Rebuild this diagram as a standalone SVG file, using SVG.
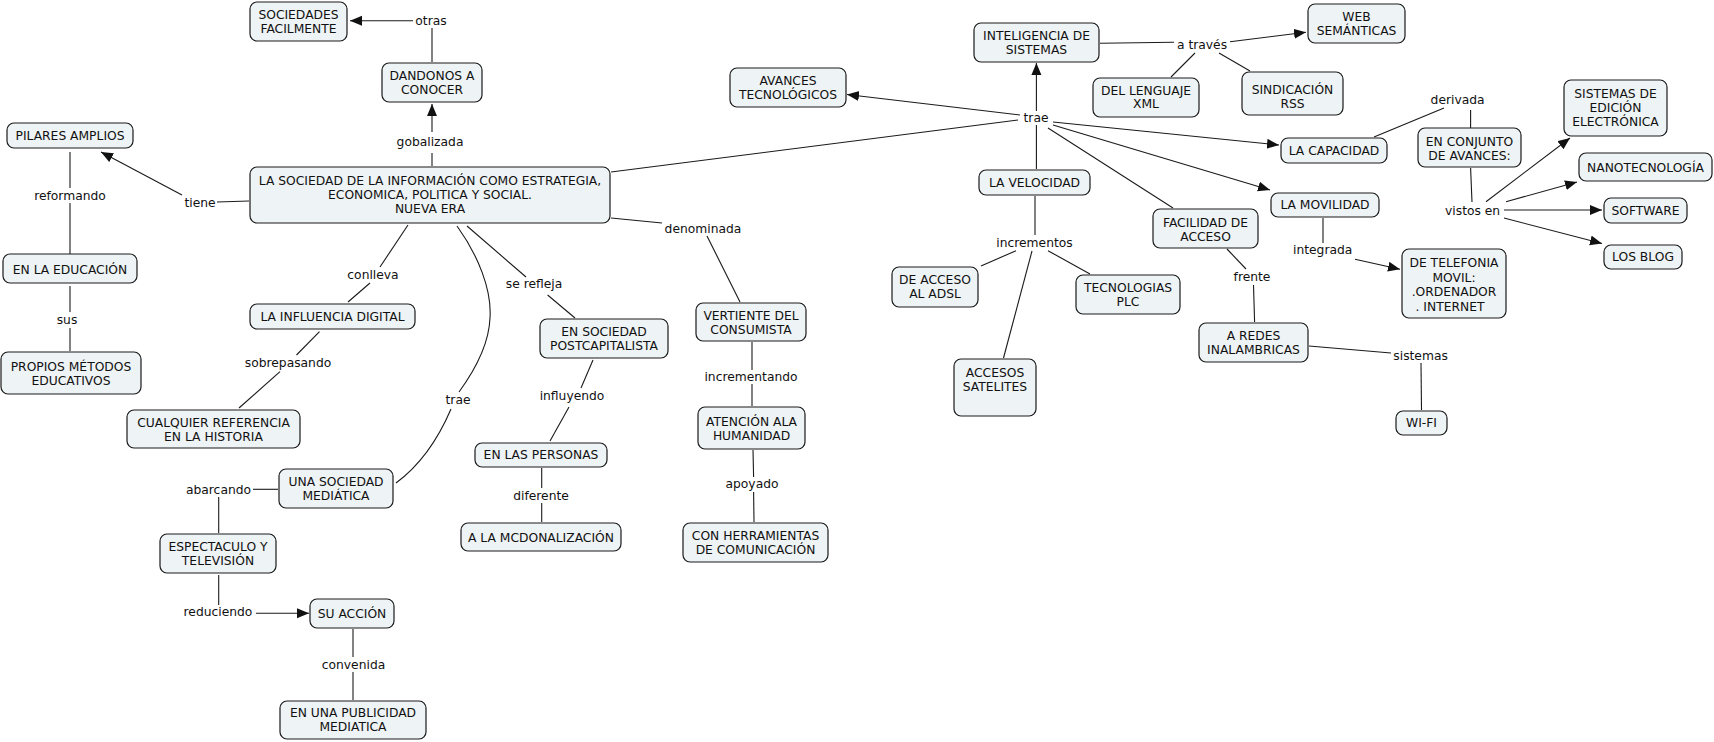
<svg xmlns="http://www.w3.org/2000/svg" width="1714" height="742" viewBox="0 0 1714 742">
<defs>
<style>
.n rect{fill:#EEF3F5;stroke:#1a1a1a;stroke-width:1.2}
text{font-family:"DejaVu Sans",Verdana,sans-serif;font-size:12.3px;fill:#111;text-anchor:middle}
.c line,.c path{stroke:#1a1a1a;stroke-width:1.1;fill:none}
.a{marker-end:url(#ah)}
</style>
<marker id="ah" markerUnits="userSpaceOnUse" markerWidth="13" markerHeight="11" refX="12" refY="5" orient="auto"><path d="M0,0 L12,5 L0,10 z" fill="#111"/></marker>
</defs>
<rect width="1714" height="742" fill="#fff"/>
<g id="connectors" class="c">
<line x1="432" y1="62" x2="432" y2="28"/>
<line class="a" x1="413" y1="20.7" x2="350" y2="20.7"/>
<line x1="432" y1="166" x2="432" y2="153"/>
<line class="a" x1="432" y1="132" x2="432" y2="104"/>
<line x1="249" y1="201" x2="217" y2="202"/>
<line class="a" x1="182" y1="195" x2="101" y2="152"/>
<line x1="70" y1="152" x2="70" y2="188"/>
<line x1="70" y1="203" x2="70" y2="254"/>
<line x1="70" y1="286" x2="70" y2="312"/>
<line x1="70" y1="328" x2="70" y2="351"/>
<line x1="408" y1="225" x2="380" y2="267"/>
<line x1="370" y1="283" x2="348" y2="302"/>
<line x1="319.5" y1="331.7" x2="296.5" y2="355"/>
<line x1="280" y1="371.7" x2="239" y2="408"/>
<path d="M457,226 C478,255 492,290 490,318 C489,345 475,370 459,392"/>
<path d="M451,409 Q430,458 396,483"/>
<line x1="467" y1="226" x2="526" y2="277"/>
<line x1="547.6" y1="295" x2="575" y2="318"/>
<line x1="593" y1="360" x2="581" y2="388"/>
<line x1="569" y1="407" x2="550" y2="441"/>
<line x1="541.7" y1="468" x2="541.7" y2="488"/>
<line x1="541.7" y1="503" x2="541.7" y2="522"/>
<line x1="253" y1="489.3" x2="278" y2="489.3"/>
<line x1="218.7" y1="497" x2="218.7" y2="533"/>
<line x1="218.7" y1="575" x2="218.7" y2="605"/>
<line class="a" x1="256" y1="613.3" x2="309" y2="613.3"/>
<line x1="353" y1="629" x2="353" y2="657"/>
<line x1="353" y1="672" x2="353" y2="700"/>
<line x1="611" y1="218" x2="662" y2="223"/>
<line x1="707" y1="236" x2="740" y2="302"/>
<line x1="752" y1="342" x2="752" y2="370"/>
<line x1="752" y1="384" x2="752" y2="406"/>
<line x1="753" y1="450" x2="753.6" y2="477"/>
<line x1="753.6" y1="492" x2="754" y2="522"/>
<line x1="611" y1="172" x2="1018" y2="120"/>
<line class="a" x1="1020" y1="115" x2="847" y2="94.5"/>
<line class="a" x1="1036.4" y1="111" x2="1036.4" y2="63"/>
<line x1="1036.4" y1="125" x2="1036.4" y2="169"/>
<line class="a" x1="1053" y1="122" x2="1279" y2="145"/>
<line class="a" x1="1053" y1="125" x2="1270" y2="190"/>
<line x1="1048" y1="128" x2="1173" y2="208"/>
<line x1="1100" y1="43.3" x2="1174" y2="42.3"/>
<line class="a" x1="1230" y1="41.7" x2="1306" y2="32.3"/>
<line x1="1195" y1="53" x2="1171" y2="77"/>
<line x1="1219" y1="53" x2="1250" y2="71"/>
<line x1="1035" y1="196" x2="1035" y2="235"/>
<line x1="1016" y1="250.7" x2="981" y2="266"/>
<line x1="1048" y1="250.7" x2="1090" y2="274"/>
<line x1="1032" y1="251" x2="1003.5" y2="358"/>
<line x1="1374" y1="137" x2="1444" y2="108"/>
<line x1="1470.6" y1="110" x2="1470.6" y2="128"/>
<line x1="1470.6" y1="168" x2="1472" y2="202"/>
<line class="a" x1="1486" y1="201.7" x2="1570" y2="138"/>
<line class="a" x1="1506" y1="201.7" x2="1577" y2="182"/>
<line class="a" x1="1504" y1="210" x2="1602" y2="210"/>
<line class="a" x1="1504" y1="218" x2="1602" y2="243.5"/>
<line x1="1323" y1="218" x2="1323" y2="243"/>
<line class="a" x1="1355" y1="259.3" x2="1400" y2="269.3"/>
<line x1="1227" y1="249" x2="1246" y2="269"/>
<line x1="1253.5" y1="285" x2="1254.6" y2="322"/>
<line x1="1309" y1="346" x2="1391" y2="353"/>
<line x1="1421" y1="363" x2="1421.5" y2="410"/>
</g>
<g id="labels">
<text x="431" y="25">otras</text>
<text x="430" y="146.3">gobalizada</text>
<text x="200" y="207.3">tiene</text>
<text x="70" y="200.3">reformando</text>
<text x="67" y="324.3">sus</text>
<text x="373" y="278.6">conlleva</text>
<text x="288" y="366.6">sobrepasando</text>
<text x="458" y="403.6">trae</text>
<text x="534" y="287.6">se refleja</text>
<text x="572" y="400">influyendo</text>
<text x="541" y="500">diferente</text>
<text x="218.5" y="493.6">abarcando</text>
<text x="218" y="616">reduciendo</text>
<text x="353.5" y="668.6">convenida</text>
<text x="703" y="232.6">denominada</text>
<text x="751" y="381">incrementando</text>
<text x="752" y="488.3">apoyado</text>
<text x="1036" y="121.6">trae</text>
<text x="1202" y="49.3">a través</text>
<text x="1034.5" y="247.3">incrementos</text>
<text x="1457.6" y="104.3">derivada</text>
<text x="1472.6" y="215">vistos en</text>
<text x="1322.7" y="254.3">integrada</text>
<text x="1252" y="281">frente</text>
<text x="1420.6" y="360.3">sistemas</text>
</g>
<g id="n_sociedades" class="n"><rect x="250" y="2" width="97" height="39" rx="7"/><text x="298.5" y="18.8">SOCIEDADES</text><text x="298.5" y="32.8">FACILMENTE</text></g>
<g id="n_dandonos" class="n"><rect x="382" y="63" width="100" height="39" rx="7"/><text x="432" y="80.3">DANDONOS A</text><text x="432" y="94.3">CONOCER</text></g>
<g id="n_main" class="n"><rect x="250" y="167" width="360" height="56" rx="7"/><text x="430" y="185.3">LA SOCIEDAD DE LA INFORMACIÓN COMO ESTRATEGIA,</text><text x="430" y="199.3">ECONOMICA, POLITICA Y SOCIAL.</text><text x="430" y="213.3">NUEVA ERA</text></g>
<g id="n_pilares" class="n"><rect x="7" y="123" width="126" height="25" rx="7"/><text x="70" y="140.3">PILARES AMPLIOS</text></g>
<g id="n_educacion" class="n"><rect x="3" y="254" width="134" height="29" rx="7"/><text x="70" y="273.8">EN LA EDUCACIÓN</text></g>
<g id="n_propios" class="n"><rect x="1" y="352" width="140" height="42" rx="7"/><text x="71" y="371.3">PROPIOS MÉTODOS</text><text x="71" y="385.3">EDUCATIVOS</text></g>
<g id="n_influencia" class="n"><rect x="250" y="304" width="165" height="25" rx="7"/><text x="332.5" y="320.6">LA INFLUENCIA DIGITAL</text></g>
<g id="n_cualquier" class="n"><rect x="127" y="410" width="173" height="38" rx="7"/><text x="213.5" y="426.8">CUALQUIER REFERENCIA</text><text x="213.5" y="440.8">EN LA HISTORIA</text></g>
<g id="n_una_sociedad" class="n"><rect x="279" y="469" width="114" height="39" rx="7"/><text x="336" y="486.3">UNA SOCIEDAD</text><text x="336" y="500.3">MEDIÁTICA</text></g>
<g id="n_espectaculo" class="n"><rect x="160" y="534" width="116" height="39" rx="7"/><text x="218" y="551.3">ESPECTACULO Y</text><text x="218" y="565.3">TELEVISIÓN</text></g>
<g id="n_su_accion" class="n"><rect x="310" y="599" width="84" height="29" rx="7"/><text x="352" y="618.3">SU ACCIÓN</text></g>
<g id="n_publicidad" class="n"><rect x="280" y="701" width="146" height="38" rx="7"/><text x="353" y="717.3">EN UNA PUBLICIDAD</text><text x="353" y="731.3">MEDIATICA</text></g>
<g id="n_postcapitalista" class="n"><rect x="540" y="319" width="128" height="39" rx="7"/><text x="604" y="336.3">EN SOCIEDAD</text><text x="604" y="350.3">POSTCAPITALISTA</text></g>
<g id="n_personas" class="n"><rect x="475" y="443" width="132" height="24" rx="7"/><text x="541" y="459.3">EN LAS PERSONAS</text></g>
<g id="n_mcdonal" class="n"><rect x="461" y="523" width="160" height="28" rx="7"/><text x="541" y="541.8">A LA MCDONALIZACIÓN</text></g>
<g id="n_vertiente" class="n"><rect x="696" y="303" width="110" height="38" rx="7"/><text x="751" y="319.8">VERTIENTE DEL</text><text x="751" y="333.8">CONSUMISTA</text></g>
<g id="n_atencion" class="n"><rect x="698" y="407" width="107" height="42" rx="7"/><text x="751.5" y="426.3">ATENCIÓN ALA</text><text x="751.5" y="440.3">HUMANIDAD</text></g>
<g id="n_herramientas" class="n"><rect x="683" y="523" width="145" height="39" rx="7"/><text x="755.5" y="540.3">CON HERRAMIENTAS</text><text x="755.5" y="554.3">DE COMUNICACIÓN</text></g>
<g id="n_avances" class="n"><rect x="730" y="68" width="116" height="39" rx="7"/><text x="788" y="84.8">AVANCES</text><text x="788" y="98.8">TECNOLÓGICOS</text></g>
<g id="n_inteligencia" class="n"><rect x="974" y="23" width="125" height="39" rx="7"/><text x="1036.5" y="40.3">INTELIGENCIA DE</text><text x="1036.5" y="54.3">SISTEMAS</text></g>
<g id="n_web" class="n"><rect x="1308" y="4" width="97" height="39" rx="7"/><text x="1356.5" y="21.3">WEB</text><text x="1356.5" y="35.3">SEMÁNTICAS</text></g>
<g id="n_xml" class="n"><rect x="1093" y="78" width="106" height="39" rx="7"/><text x="1146" y="94.8">DEL LENGUAJE</text><text x="1146" y="108.3">XML</text></g>
<g id="n_rss" class="n"><rect x="1242" y="72" width="101" height="43" rx="7"/><text x="1292.5" y="94.3">SINDICACIÓN</text><text x="1292.5" y="108.3">RSS</text></g>
<g id="n_velocidad" class="n"><rect x="979" y="170" width="111" height="25" rx="7"/><text x="1034.5" y="186.8">LA VELOCIDAD</text></g>
<g id="n_adsl" class="n"><rect x="892" y="267" width="86" height="40" rx="7"/><text x="935" y="284.3">DE ACCESO</text><text x="935" y="298.3">AL ADSL</text></g>
<g id="n_plc" class="n"><rect x="1076" y="275" width="104" height="39" rx="7"/><text x="1128" y="292.3">TECNOLOGIAS</text><text x="1128" y="306.3">PLC</text></g>
<g id="n_satelites" class="n"><rect x="954" y="359" width="82" height="57" rx="7"/><text x="995" y="377.3">ACCESOS</text><text x="995" y="391.3">SATELITES</text></g>
<g id="n_capacidad" class="n"><rect x="1281" y="138" width="106" height="25" rx="7"/><text x="1334" y="155.3">LA CAPACIDAD</text></g>
<g id="n_movilidad" class="n"><rect x="1271" y="193" width="108" height="24" rx="7"/><text x="1325" y="209.3">LA MOVILIDAD</text></g>
<g id="n_facilidad" class="n"><rect x="1153" y="209" width="105" height="39" rx="7"/><text x="1205.5" y="227.3">FACILIDAD DE</text><text x="1205.5" y="241.3">ACCESO</text></g>
<g id="n_redes" class="n"><rect x="1199" y="323" width="109" height="39" rx="7"/><text x="1253.5" y="339.8">A REDES</text><text x="1253.5" y="353.8">INALAMBRICAS</text></g>
<g id="n_wifi" class="n"><rect x="1396" y="411" width="51" height="24" rx="7"/><text x="1421.5" y="427.3">WI-FI</text></g>
<g id="n_telefonia" class="n"><rect x="1402" y="249" width="104" height="69" rx="7"/><text x="1454" y="267.3">DE TELEFONIA</text><text x="1454" y="281.8">MOVIL:</text><text x="1454" y="296.3">.ORDENADOR</text><text x="1450" y="310.8">. INTERNET</text></g>
<g id="n_conjunto" class="n"><rect x="1418" y="128" width="103" height="39" rx="7"/><text x="1469.5" y="145.8">EN CONJUNTO</text><text x="1469.5" y="159.8">DE AVANCES:</text></g>
<g id="n_sistemas_edicion" class="n"><rect x="1564" y="80" width="103" height="56" rx="7"/><text x="1615.5" y="98.3">SISTEMAS DE</text><text x="1615.5" y="112.3">EDICIÓN</text><text x="1615.5" y="126.3">ELECTRÓNICA</text></g>
<g id="n_nano" class="n"><rect x="1579" y="153" width="133" height="28" rx="7"/><text x="1645.5" y="172.3">NANOTECNOLOGÍA</text></g>
<g id="n_software" class="n"><rect x="1604" y="198" width="83" height="25" rx="7"/><text x="1645.5" y="214.8">SOFTWARE</text></g>
<g id="n_blog" class="n"><rect x="1604" y="245" width="78" height="24" rx="7"/><text x="1643" y="261.3">LOS BLOG</text></g>
</svg>
